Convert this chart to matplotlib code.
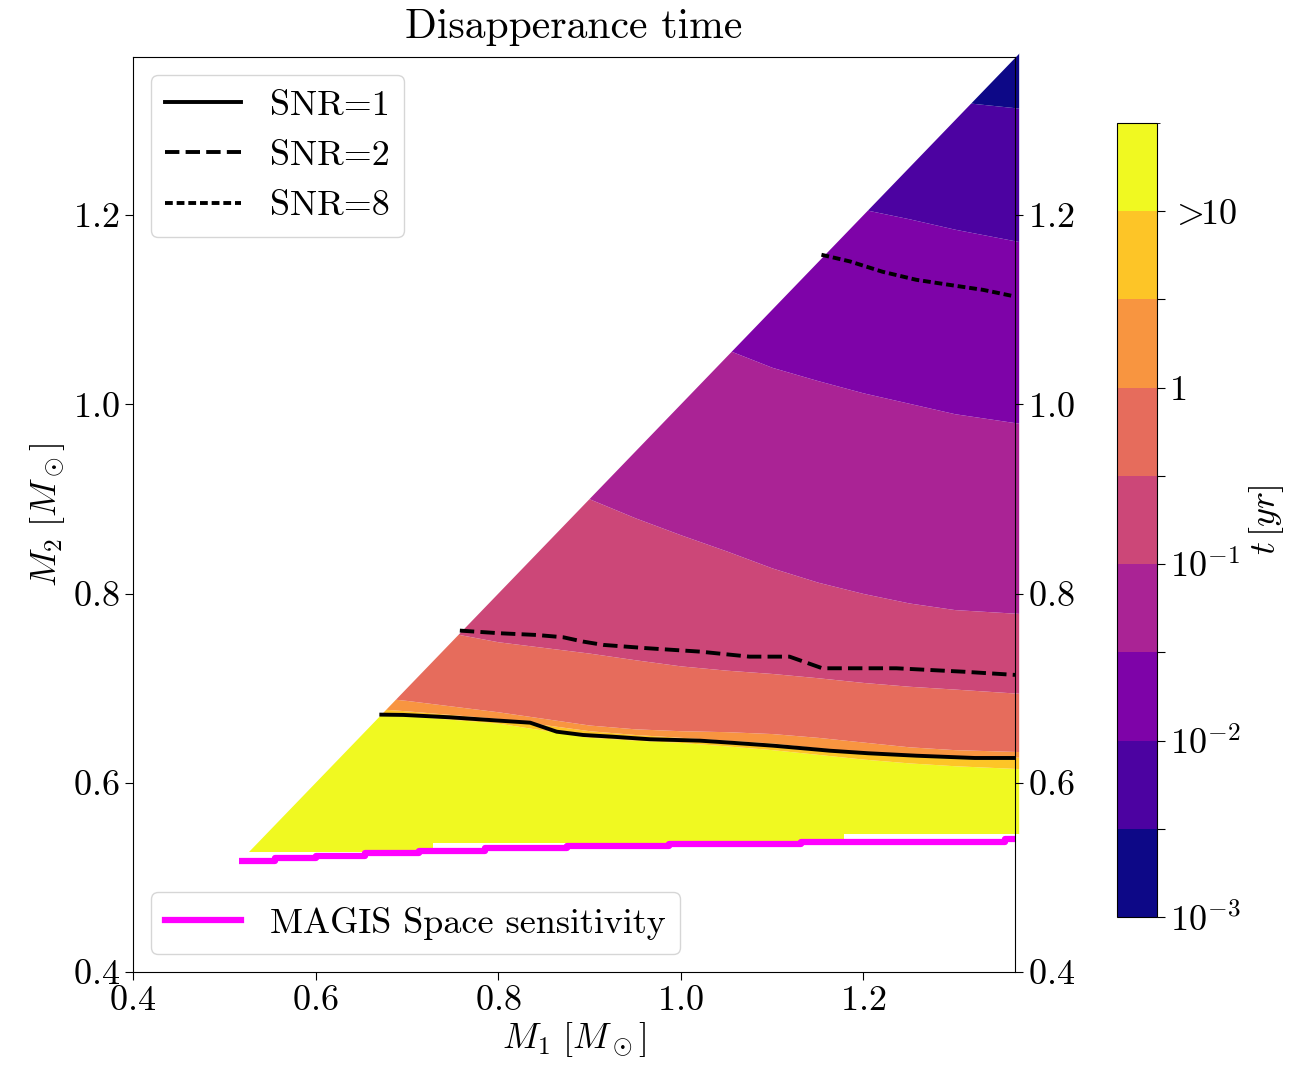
import numpy as np
import matplotlib
matplotlib.use("Agg")
import matplotlib.pyplot as plt
from matplotlib.colors import ListedColormap, BoundaryNorm
from matplotlib.patches import Polygon
from matplotlib.lines import Line2D

plt.rcParams["font.family"] = "serif"
plt.rcParams["font.serif"] = ["cmr10", "DejaVu Serif"]
plt.rcParams["mathtext.fontset"] = "cm"
plt.rcParams["axes.formatter.use_mathtext"] = True
plt.rcParams["axes.unicode_minus"] = False

# log10(t/yr) contour levels of the colour bar
levels = [-3.0, -2.5, -2.0, -1.5, -1.0, -0.5, 0.0, 0.5, 1.0, 1.5]
cbar_labels = ["$10^{-3}$", "", "$10^{-2}$", "", "$10^{-1}$", "", "1", "", r"$>\!\!$10"]

m1 = [0.50, 0.60, 0.70, 0.80, 0.90, 0.95, 1.00, 1.05, 1.10, 1.15, 1.20, 1.25, 1.30, 1.37]
# M2 of each band edge (log10 t = level) at those M1
edge_m25 = [1.45, 1.45, 1.45, 1.45, 1.45, 1.45, 1.45, 1.45, 1.40, 1.38, 1.36, 1.34, 1.320, 1.313]
edge_m20 = [1.40, 1.40, 1.40, 1.40, 1.35, 1.33, 1.30, 1.27, 1.24, 1.22, 1.206, 1.196, 1.185, 1.172]
edge_m15 = [1.30, 1.28, 1.25, 1.20, 1.15, 1.12, 1.090, 1.058, 1.039, 1.025, 1.012, 1.001, 0.990, 0.980]
edge_m10 = [1.10, 1.05, 1.00, 0.950, 0.900, 0.880, 0.862, 0.845, 0.827, 0.812, 0.800, 0.790, 0.783, 0.779]
edge_m05 = [0.800, 0.785, 0.767, 0.749, 0.737, 0.730, 0.7235, 0.719, 0.7155, 0.711, 0.706, 0.702, 0.699, 0.6946]
edge_00 = [0.705, 0.697, 0.687, 0.675, 0.661, 0.657, 0.655, 0.654, 0.652, 0.648, 0.643, 0.638, 0.635, 0.633]
edge_05 = [0.690, 0.683, 0.676, 0.668, 0.655, 0.651, 0.648, 0.645, 0.642, 0.637, 0.632, 0.629, 0.628, 0.627]
edge_10 = [0.685, 0.678, 0.671, 0.663, 0.648, 0.645, 0.6426, 0.639, 0.635, 0.630, 0.625, 0.621, 0.618, 0.615]

# lower edge of the computed region
bottom_m1 = [0.527, 0.729, 0.729, 1.179, 1.179, 1.40]
bottom_m2 = [0.527, 0.527, 0.536, 0.536, 0.5455, 0.5455]

# SNR contours
snr1_m1 = [0.672, 0.696, 0.747, 0.802, 0.835, 0.864, 0.893, 0.925, 0.966, 1.021,
           1.054, 1.101, 1.133, 1.163, 1.205, 1.258, 1.322, 1.366]
snr1_m2 = [0.672, 0.6717, 0.6692, 0.6656, 0.6635, 0.654, 0.6505, 0.6487, 0.646, 0.6445,
           0.6424, 0.6392, 0.6365, 0.6339, 0.6312, 0.6286, 0.6262, 0.6262]
snr2_m1 = [0.758, 0.802, 0.842, 0.871, 0.893, 0.915, 0.963, 1.021, 1.075, 1.119,
           1.155, 1.236, 1.309, 1.366]
snr2_m2 = [0.7608, 0.758, 0.7562, 0.7538, 0.7492, 0.7457, 0.7422, 0.7386, 0.7333, 0.7333,
           0.721, 0.721, 0.7174, 0.714]
snr8_m1 = [1.154, 1.185, 1.221, 1.258, 1.294, 1.331, 1.366]
snr8_m2 = [1.158, 1.151, 1.140, 1.1315, 1.1262, 1.1209, 1.1139]

# MAGIS Space sensitivity (step line)
magis_m1 = [0.516, 0.556, 0.556, 0.601, 0.601, 0.654, 0.654, 0.713, 0.713, 0.785, 0.785,
            0.875, 0.875, 0.987, 0.987, 1.132, 1.132, 1.355, 1.355, 1.366]
magis_m2 = [0.5177, 0.5177, 0.5202, 0.5202, 0.5226, 0.5226, 0.5254, 0.5254, 0.5279, 0.5279,
            0.5307, 0.5307, 0.5332, 0.5332, 0.5356, 0.5356, 0.5377, 0.5377, 0.5405, 0.5405]

colors = plt.get_cmap("plasma")(np.linspace(0, 1, 9))
cmap = ListedColormap(colors)
norm = BoundaryNorm(levels, cmap.N)

fig = plt.figure(figsize=(13.06, 10.65), dpi=100)
ax = fig.add_axes([0.1018, 0.0873, 0.6754, 0.8592])
cax = fig.add_axes([0.8553, 0.139, 0.0306, 0.7455])

# region of valid data: below the diagonal M2 = M1 and above the lower edge
region = list(zip(bottom_m1, bottom_m2)) + [(bottom_m1[-1], bottom_m1[-1])]
clip = Polygon(region, closed=True, transform=ax.transData)

edges = [np.full(len(m1), 0.3), edge_10, edge_05, edge_00, edge_m05, edge_m10,
         edge_m15, edge_m20, edge_m25, np.full(len(m1), 1.6)]
for i in range(9):
    band = ax.fill_between(m1, edges[i], edges[i + 1], color=colors[8 - i], lw=0)
    band.set_clip_path(clip)

ax.plot(snr1_m1, snr1_m2, color="k", lw=2.8, ls="-")
ax.plot(snr2_m1, snr2_m2, color="k", lw=2.8, ls="--")
ax.plot(snr8_m1, snr8_m2, color="k", lw=2.8, dashes=(2, 1))
ax.plot(magis_m1, magis_m2, color="magenta", lw=4.5, solid_capstyle="butt")

ax.set_xlim(0.4, 1.366)
ax.set_ylim(0.4, 1.367)
ax.set_xticks([0.4, 0.6, 0.8, 1.0, 1.2])
ax.set_yticks([0.4, 0.6, 0.8, 1.0, 1.2])
ax.tick_params(labelsize=26, length=6, right=True, labelright=True)
ax.set_xlabel(r"$M_1\ [M_\odot]$", fontsize=26, labelpad=2)
ax.set_ylabel(r"$M_2\ [M_\odot]$", fontsize=26)
ax.set_title("Disapperance time", fontsize=30, pad=14)

snr_handles = [Line2D([], [], color="k", lw=2.8, ls="-"),
               Line2D([], [], color="k", lw=2.8, ls="--"),
               Line2D([], [], color="k", lw=2.8, dashes=(2, 1))]
leg1 = ax.legend(snr_handles, ["SNR=1", "SNR=2", "SNR=8"], loc="upper left",
                 fontsize=26, handlelength=2.1)
ax.add_artist(leg1)
ax.legend([Line2D([], [], color="magenta", lw=4.5)], ["MAGIS Space sensitivity"],
          loc="lower left", fontsize=26, handlelength=2.1)

sm = plt.cm.ScalarMappable(norm=norm, cmap=cmap)
cb = fig.colorbar(sm, cax=cax, ticks=levels[:-1])
cb.ax.set_yticklabels(cbar_labels)
cb.ax.tick_params(labelsize=26, length=6)
cb.set_label(r"$t\,[yr]$", fontsize=26)

fig.savefig("out.png", dpi=100)
